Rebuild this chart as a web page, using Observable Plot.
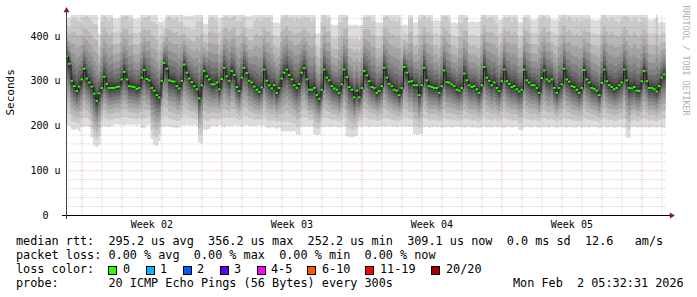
<!DOCTYPE html>
<html><head><meta charset="utf-8">
<script src="https://cdn.jsdelivr.net/npm/d3@7"></script>
<script src="https://cdn.jsdelivr.net/npm/@observablehq/plot@0.6"></script>
<style>
body{margin:0;background:#fff;}
#wrap{position:relative;width:697px;height:297px;overflow:hidden;font-family:"DejaVu Sans Mono",monospace;background:#fff;}
#chart svg{display:block;}
#legend{position:absolute;left:0;top:234px;width:697px;height:63px;font-size:11.82px;line-height:14px;white-space:pre;color:#000;}
.row{position:absolute;left:16px;}
.box{position:absolute;width:9px;height:9px;box-sizing:border-box;border:1px solid #000;}
.lab{position:absolute;}
</style></head><body><div id="wrap"><div id="chart"></div><div id="legend"></div></div>
<script>
// ---- data (3-hour steps starting 2026-01-03 05:00 UTC) ----
const medianRtt = [
355,338,300,288,277,287,303,327, 305,296,287,271,255,272,284,309,
293,284,284,284,286,287,303,320, 303,288,287,286,282,284,307,324,
304,301,284,278,268,263,300,340, 327,301,299,298,288,283,300,336,
318,305,297,288,281,261,290,322, 310,303,292,292,296,281,304,329,
310,300,322,313,286,277,307,329, 317,300,296,287,280,275,285,325,
300,290,283,290,273,284,305,318, 325,313,303,290,284,293,318,328,
303,280,280,284,268,260,280,325, 307,301,288,283,280,273,292,325,
308,286,280,263,278,263,284,322, 312,299,286,284,273,277,288,329,
307,293,288,280,278,268,284,331, 318,298,299,290,290,268,290,329,
301,288,286,284,284,273,288,323, 297,296,292,288,280,278,284,316,
301,290,286,288,281,273,290,331, 307,300,290,296,284,277,299,325,
299,293,286,288,281,276,280,325, 301,296,290,290,284,273,306,323,
303,299,303,284,273,284,292,327, 303,298,288,286,280,273,284,324,
303,296,284,282,278,268,295,325, 299,290,286,281,284,290,296,325,
301,284,283,286,278,277,299,322, 299,284,284,281,276,288,307,314
];
const smokeLow = [
201,200,191,190,192,187,198,197, 199,197,173,155,152,156,197,199,
198,196,199,202,203,201,202,200, 202,203,201,202,200,203,195,194,
201,202,170,157,155,165,198,197, 199,198,196,195,194,196,201,200,
202,201,200,202,199,162,160,191, 190,192,200,199,197,201,200,196,
200,199,198,201,200,199,197,200, 201,200,199,198,200,201,199,200,
195,194,196,195,193,195,187,186, 188,187,186,188,180,179,198,197,
199,197,198,181,179,180,197,196, 198,197,196,198,197,195,197,198,
176,175,173,175,177,198,197,199, 198,196,199,198,197,198,199,197,
198,199,197,198,196,198,199,198, 197,198,196,181,179,180,182,196,
197,195,196,198,196,197,195,196, 196,197,195,196,198,196,197,195,
196,197,195,196,195,194,196,197, 195,196,195,197,196,196,197,195,
196,197,195,196,197,190,189,196, 197,196,195,197,196,195,197,196,
196,195,197,196,194,196,197,196, 195,197,196,195,196,197,195,196,
196,195,197,196,196,194,196,197, 195,196,197,195,196,197,196,195,
173,172,196,197,195,196,197,196, 196,195,197,196,195,197,196,195
];
const smokeHigh = [
440,442,470,480,475,470,460,470, 480,475,470,465,470,405,470,480,
475,470,480,440,438,442,470,475, 480,470,475,438,437,440,465,470,
475,480,470,470,465,432,430,435, 470,480,475,470,480,470,465,445,
444,446,445,447,470,475,470,428, 427,470,480,475,470,440,441,470,
480,475,470,480,470,475,465,470, 445,444,446,470,480,475,470,470,
475,480,470,430,431,429,470,475, 480,470,475,470,480,475,465,470,
475,480,470,475,405,406,470,480, 470,475,426,424,425,470,465,470,
480,425,424,426,425,424,425,470, 475,480,470,470,431,430,429,470,
480,475,470,475,470,480,424,426, 425,470,475,430,431,480,470,475,
470,480,470,435,436,434,470,475, 480,470,430,431,429,470,465,470,
475,431,433,432,430,432,470,480, 470,475,480,470,465,437,436,470,
475,480,470,480,475,430,431,470, 475,470,437,436,438,480,470,475,
470,475,437,436,437,470,475,480, 470,480,475,470,480,475,470,465,
470,475,437,436,435,437,470,480, 475,470,480,475,470,465,470,475,
480,475,470,480,475,470,465,470, 470,437,436,438,480,430,432,431
];
// typical sorted-ping distribution (20 pings) relative to median: -1 = lowest ping, +1 = highest ping
const pingShape = [-1,-0.83,-0.68,-0.55,-0.44,-0.34,-0.25,-0.17,-0.1,-0.05,
                   0.03,0.07,0.12,0.19,0.27,0.37,0.49,0.63,0.8,1];
const yTicks = [0,100,200,300,400];
const weekStarts = ["2026-01-04","2026-01-11","2026-01-18","2026-01-25"];
const weekLabels = ["Week 02","Week 03","Week 04","Week 05"];
const lossLabels = ["0","1","2","3","4-5","6-10","11-19","20/20"];
const lossColors = ["#26ff00","#00b8ff","#0059ff","#5e00ff","#ff00ff","#ff5500","#ff0000","#a10000"];
const statsMedian = "median rtt:  295.2 us avg  356.2 us max  252.2 us min  309.1 us now  0.0 ms sd  12.6   am/s";
const statsLoss = "packet loss: 0.00 % avg  0.00 % max  0.00 % min  0.00 % now";
const probeText = "probe:       20 ICMP Echo Pings (56 Bytes) every 300s";
const dateText = "Mon Feb  2 05:32:31 2026";

// ---- layout ----
const tStart = new Date(Date.UTC(2026,0,3,5,32,31));
const tEnd = new Date(Date.UTC(2026,1,2,5,32,31));
const stepStart = Date.UTC(2026,0,3,5,0,0);
const stepMs = 3*3600*1000;
const yMax = 447;
const plotH = 200;
const onePx = yMax/plotH;

const rows = medianRtt.map((m,k)=>{
  const lo = smokeLow[k], hi = smokeHigh[k];
  const p = pingShape.map(f => f < 0 ? m + f*(m-lo) : m + f*(hi-m));
  return {t:new Date(stepStart + k*stepMs), t2:new Date(stepStart + (k+1)*stepMs), med:m, p};
});
const last = rows[rows.length-1];
const areaRows = [...rows, {...last, t:last.t2}];

const gray = b => { const v = Math.round(190/10*(9-b))+50; const h = v.toString(16).padStart(2,"0"); return "#"+h+h+h; };
const smokeMarks = d3.range(10).map(b => Plot.areaY(areaRows, {
  x:"t", y1:d=>d.p[b], y2:d=>d.p[19-b], curve:"step-after", fill:gray(b), clip:true
}));

const dayTicks = d3.utcDay.range(tStart, tEnd);
const xMinor = dayTicks.filter(d => d.getUTCDay() !== 0);
const xMajor = dayTicks.filter(d => d.getUTCDay() === 0);
const yMinor = d3.range(20, yMax, 20).filter(v => v % 100 !== 0);
const yMajor = [100,200,300,400];
const weekMids = weekStarts.map(s => new Date(Date.parse(s+"T00:00:00Z") + 3.5*86400000));
const weekLabelMap = new Map(weekMids.map((d,i)=>[+d, weekLabels[i]]));

const gridMinor = {stroke:"#8f8f8f", strokeOpacity:0.38, strokeDasharray:"1,1"};
const gridMajor = {stroke:"#de5151", strokeOpacity:0.42, strokeDasharray:"1,1"};

const chart = Plot.plot({
  width:697, height:234,
  marginLeft:66, marginRight:31, marginTop:15, marginBottom:19,
  style:{fontFamily:"DejaVu Sans Mono", fontSize:"10px", color:"#000", background:"#fff", overflow:"visible"},
  x:{type:"utc", domain:[tStart, tEnd]},
  y:{domain:[0, yMax]},
  marks:[
    ...smokeMarks,
    Plot.ruleY(yMinor, gridMinor),
    Plot.ruleX(xMinor, gridMinor),
    Plot.ruleY(yMajor, gridMajor),
    Plot.ruleX(xMajor, gridMajor),
    Plot.line(areaRows, {x:"t", y:"med", curve:"step-after", stroke:"#202020", strokeWidth:1, clip:true}),
    Plot.rect(rows, {x1:"t", x2:"t2", y1:d=>d.med-onePx, y2:d=>d.med+onePx, fill:lossColors[0], clip:true}),
    Plot.ruleY([0], {stroke:"#000", insetLeft:-4, insetRight:-4}),
    Plot.ruleX([tStart], {stroke:"#444", insetTop:-4, insetBottom:-4}),
    Plot.dot([tStart], {x:d=>d, frameAnchor:"top", dy:-5, symbol:"triangle", r:2.2, fill:"#7f1f1f", stroke:null}),
    Plot.dot([0], {y:d=>d, frameAnchor:"right", dx:5, symbol:"triangle", rotate:90, r:2.2, fill:"#7f1f1f", stroke:null}),
    Plot.axisY(yTicks, {tickSize:0, tickPadding:6, fontSize:10, label:null,
      tickFormat:d => d === 0 ? "0\u00a0\u00a0" : d + " u"}),
    Plot.axisX(weekMids, {tickSize:0, tickPadding:5, fontSize:10, label:null,
      tickFormat:d => weekLabelMap.get(+d)}),
    Plot.text(["Seconds"], {frameAnchor:"left", dx:-56, rotate:-90, fontSize:11, fill:"#000"}),
    Plot.text(["RRDTOOL / TOBI OETIKER"], {frameAnchor:"top-right", dx:22, dy:-10, rotate:90, textAnchor:"start", fontSize:8.3, fill:"#b0b0b0"})
  ]
});
document.getElementById("chart").append(chart);

// ---- legend ----
const lg = document.getElementById("legend");
function addRow(text, top, left){ const s=document.createElement("span"); s.className="row"; s.style.top=top+"px"; if(left!==undefined) s.style.left=left+"px"; s.textContent=text; lg.append(s); }
addRow(statsMedian, 0);
addRow(statsLoss, 14);
addRow("loss color:", 28);
addRow(probeText, 42);
addRow(dateText, 42, 513);
const boxLeft = [108,146,183,220,257,307,365,431];
const labLeft = [123,160,197,234,271,322,380,446];
lossLabels.forEach((l,i)=>{
  const b=document.createElement("span"); b.className="box"; b.style.left=boxLeft[i]+"px"; b.style.top="32px"; b.style.background=lossColors[i]; lg.append(b);
  const t=document.createElement("span"); t.className="lab"; t.style.left=labLeft[i]+"px"; t.style.top="28px"; t.textContent=l; lg.append(t);
});
</script></body></html>
